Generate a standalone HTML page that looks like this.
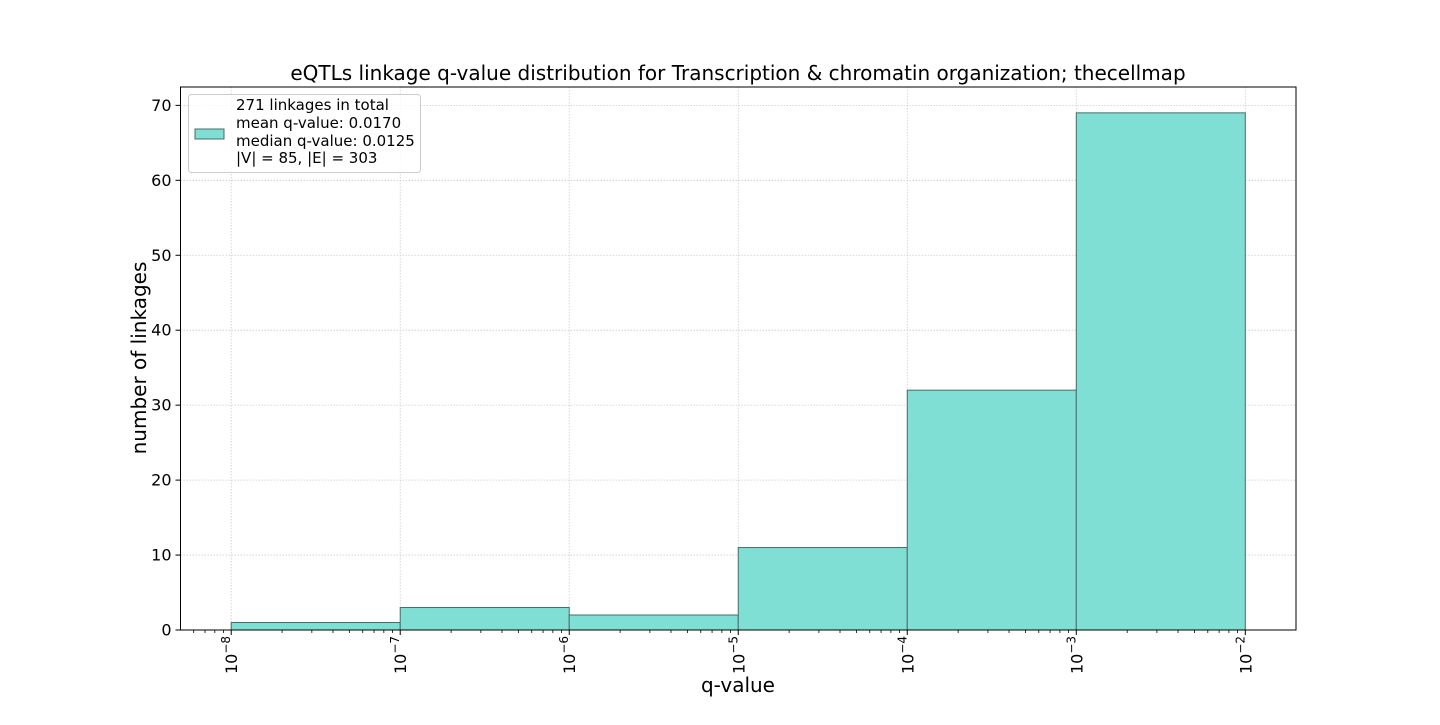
<!DOCTYPE html>
<html><head><meta charset="utf-8"><style>
body{margin:0;background:#fff;font-family:"Liberation Sans","DejaVu Sans",sans-serif}
svg text{font-family:"DejaVu Sans","Liberation Sans",sans-serif}
</style></head><body>
<svg id="chart" width="1440" height="720" xmlns="http://www.w3.org/2000/svg">
<rect width="1440" height="720" fill="#fff"/>
<text x="738" y="80" font-size="20" text-anchor="middle">eQTLs linkage q-value distribution for Transcription &amp; chromatin organization; thecellmap</text>
<g id="grid"></g>
<g id="bars"></g>
<g id="axes"></g>
<text x="738" y="692" font-size="20" text-anchor="middle">q-value</text>
<text transform="translate(146,358) rotate(-90)" font-size="20" text-anchor="middle">number of linkages</text>
<g>
<rect x="188.5" y="94.5" width="232" height="78" rx="3" fill="#fff" fill-opacity="0.8" stroke="#ccc"/>
<rect x="195" y="129" width="29" height="10" fill="#7fdfd4" stroke="#4b6b66"/>
<text x="236" y="110" font-size="15">271 linkages in total</text>
<text x="236" y="128" font-size="15">mean q-value: 0.0170</text>
<text x="236" y="146" font-size="15">median q-value: 0.0125</text>
<text x="236" y="163" font-size="15">|V| = 85, |E| = 303</text>
</g>
</svg>
<script>
const binEdgesExp=[-8,-7,-6,-5,-4,-3,-2];
const counts=[1,3,2,11,32,69];
const yTicks=[0,10,20,30,40,50,60,70];
const xTickExp=[-8,-7,-6,-5,-4,-3,-2];
const L=180.5,R=1296,T=87,B=630;
const xmin=-8.3,xmax=-1.7,ymax=72.45;
const sx=e=>L+(e-xmin)/(xmax-xmin)*(R-L);
const sy=v=>B-v/ymax*(B-T);
const NS="http://www.w3.org/2000/svg";
function mk(tag,attrs,parent){const el=document.createElementNS(NS,tag);for(const k in attrs)el.setAttribute(k,attrs[k]);parent.appendChild(el);return el;}
const grid=document.getElementById('grid'),bars=document.getElementById('bars'),axes=document.getElementById('axes');
xTickExp.forEach(e=>{const l=mk('line',{x1:sx(e),x2:sx(e),y1:T,y2:B,stroke:'#ccc','stroke-dasharray':'1.5,1.5','stroke-width':0.8},grid);

});
yTicks.forEach(v=>{const l=mk('line',{x1:L,x2:R,y1:sy(v),y2:sy(v),stroke:'#ccc','stroke-dasharray':'1.5,1.5','stroke-width':0.8},grid);

});
counts.forEach((c,i)=>{const x0=sx(binEdgesExp[i]),x1=sx(binEdgesExp[i+1]);
const r=mk('rect',{x:x0,y:sy(c),width:x1-x0,height:B-sy(c),fill:'#7fdfd4',stroke:'#4b6b66','stroke-width':1},bars);

});
const frame=mk('rect',{x:L,y:T,width:R-L,height:B-T,fill:'none',stroke:'#000','stroke-width':1},axes);


yTicks.forEach(v=>{mk('line',{x1:L-5,x2:L,y1:sy(v),y2:sy(v),stroke:'#000'},axes);
const t=mk('text',{x:L-9,y:sy(v)+5.5,'font-size':16,'text-anchor':'end'},axes);t.textContent=v;

});
for(let d=-9;d<=-2;d++){for(let m=2;m<=9;m++){const e=d+Math.log10(m);if(e<xmin||e>xmax)continue;mk('line',{x1:sx(e),x2:sx(e),y1:B,y2:B+3,stroke:'#000','stroke-width':0.8},axes);}}
xTickExp.forEach(e=>{mk('line',{x1:sx(e),x2:sx(e),y1:B,y2:B+5,stroke:'#000'},axes);
const t=mk('text',{transform:`translate(${sx(e)+6},${B+44}) rotate(-90)`,'font-size':16},axes);
t.innerHTML='10<tspan dy="-7" font-size="12">\u2212'+(-e)+'</tspan>';

});
</script>
</body></html>
